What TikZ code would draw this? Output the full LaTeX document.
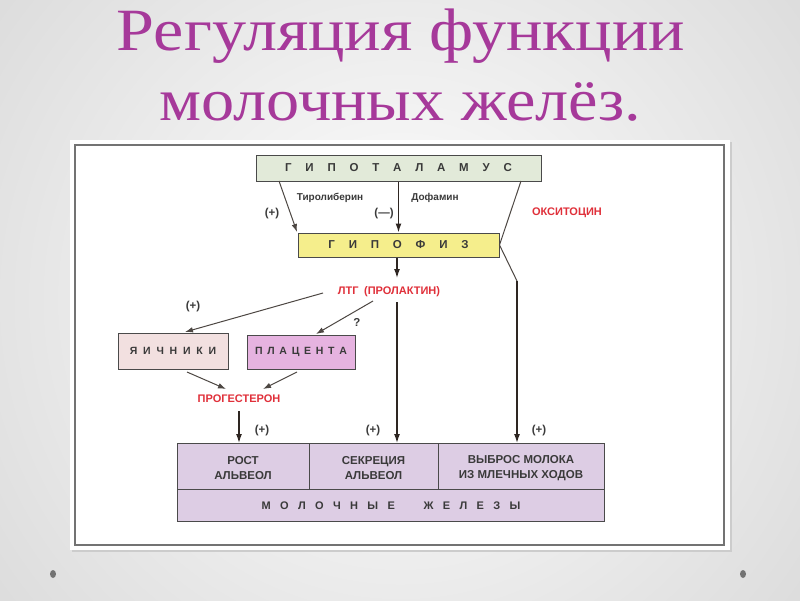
\documentclass[tikz,border=0pt]{standalone}
\usepackage{fontspec}
\setmainfont{Liberation Serif}
\newfontfamily\diag{Liberation Sans}
\usetikzlibrary{arrows.meta,calc}
\definecolor{titlec}{HTML}{A6399A}
\definecolor{redt}{HTML}{E0303A}
\definecolor{txt}{HTML}{3A3A3A}
\definecolor{edge}{HTML}{4A4A4A}
\definecolor{hypc}{HTML}{E2EAD9}
\definecolor{pitc}{HTML}{F5EE8C}
\definecolor{ovac}{HTML}{F2E0E0}
\definecolor{plac}{HTML}{E6B3E0}
\definecolor{mamc}{HTML}{DDCDE4}
\definecolor{linec}{HTML}{2E2622}
\newcommand{\ls}{\hskip 1.2em plus 0pt}
\begin{document}
\begin{tikzpicture}[x=1pt,y=-1pt,
  box/.style={draw=edge,line width=1pt,inner sep=0pt,font=\diag\bfseries\fontsize{11.5}{13}\selectfont,text=txt},
  cell/.style={inner sep=0pt,align=center,font=\diag\bfseries\fontsize{11.5}{15}\selectfont,text=txt},
  lbl/.style={inner sep=0pt,font=\diag\bfseries\fontsize{10}{12}\selectfont,text=txt},
  plbl/.style={inner sep=0pt,font=\diag\bfseries\fontsize{11.5}{13}\selectfont,text=txt},
  rlbl/.style={inner sep=0pt,font=\diag\bfseries\fontsize{11}{13}\selectfont,text=redt},
  arr/.style={draw=linec,line width=1.3pt,-{Latex[length=9pt,width=6pt]}},
  thin arr/.style={draw=linec!85!white,line width=1pt,-{Latex[length=8pt,width=5.5pt]}},
  ln/.style={draw=linec,line width=1.3pt},
  ttl/.style={inner sep=0pt,anchor=base,text=titlec,font=\fontsize{60}{62}\selectfont}]
\useasboundingbox (0,0) rectangle (800,600);
\shade[inner color=white,outer color=black!14] (-120,-220) rectangle (920,820);
% title
\node[ttl] (t1) at (401,50) {\scalebox{1.135}[1]{Регуляция функции}};
\node[ttl] (t2) at (400,120) {\scalebox{1.105}[1]{молочных желёз.}};
% panel
\fill[black!20] (72,142) rectangle (732,552);
\fill[white] (70,140) rectangle (730,550);
\draw[black!55,line width=1.2pt] (75,145) rectangle (724,545);
% boxes
\node[box,fill=hypc,minimum width=285pt,minimum height=26pt] (hyp) at (398.5,168) {Г\ls И\ls П\ls О\ls Т\ls А\ls Л\ls А\ls М\ls У\ls С};
\node[box,fill=pitc,minimum width=201pt,minimum height=24pt] (pit) at (398.5,245) {Г\ls И\ls П\ls О\ls Ф\ls И\ls З};
\node[box,fill=ovac,minimum width=110pt,minimum height=36pt,font=\diag\bfseries\fontsize{10.5}{13}\selectfont] (ova) at (173,351) {Я\hskip0.55em И\hskip0.55em Ч\hskip0.55em Н\hskip0.55em И\hskip0.55em К\hskip0.55em И};
\node[box,fill=plac,minimum width=108pt,minimum height=34pt,font=\diag\bfseries\fontsize{10.5}{13}\selectfont] (pla) at (301,352) {П\hskip0.45em Л\hskip0.45em А\hskip0.45em Ц\hskip0.45em Е\hskip0.45em Н\hskip0.45em Т\hskip0.45em А};
% mammary block
\draw[edge,line width=1pt,fill=mamc] (177,443) rectangle (604,521);
\draw[edge,line width=1pt] (177,489) -- (604,489) (309,443) -- (309,489) (438,443) -- (438,489);
\node[cell] (c1) at (243,468) {РОСТ\\АЛЬВЕОЛ};
\node[cell] (c2) at (373.5,468) {СЕКРЕЦИЯ\\АЛЬВЕОЛ};
\node[cell] (c3) at (521,468) {ВЫБРОС МОЛОКА\\ИЗ МЛЕЧНЫХ ХОДОВ};
\node[cell,font=\diag\bfseries\fontsize{11}{13}\selectfont] (mg) at (391,506) {М\hskip0.85em О\hskip0.85em Л\hskip0.85em О\hskip0.85em Ч\hskip0.85em Н\hskip0.85em Ы\hskip0.85em Е\hskip2.6em Ж\hskip0.85em Е\hskip0.85em Л\hskip0.85em Е\hskip0.85em З\hskip0.85em Ы};
% labels
\node[lbl] (tyr) at (330,198) {Тиролиберин};
\node[lbl] (dop) at (435,198) {Дофамин};
\node[plbl] (pl1) at (272,214) {(+)};
\node[plbl] (mi1) at (384,214) {(—)};
\node[rlbl] (oxy) at (567,213) {ОКСИТОЦИН};
\node[rlbl] (ltg) at (389,292) {ЛТГ\hskip0.5em(ПРОЛАКТИН)};
\node[plbl] (pl2) at (193,307) {(+)};
\node[plbl] (q) at (357,322) {?};
\node[rlbl] (prog) at (239,399) {ПРОГЕСТЕРОН};
\node[plbl] (pl3) at (262,431) {(+)};
\node[plbl] (pl4) at (373,431) {(+)};
\node[plbl] (pl5) at (539,431) {(+)};
% connector points
\coordinate (tyrA) at (279,181);
\coordinate (tyrB) at (297,232);
\coordinate (oxA) at (521,181);
\coordinate (oxB) at (517,281);
\coordinate (oxC) at (517,443);
\coordinate (lA) at (323,293);
\coordinate (lB) at (185,332);
\coordinate (pA) at (373,301);
\coordinate (pB) at (316,334);
\coordinate (oA) at (187,372);
\coordinate (oB) at (226,389);
\coordinate (qA) at (297,372);
\coordinate (qB) at (263,389);
\coordinate (vA) at (397,302);
\coordinate (vB) at (397,443);
\coordinate (gA) at (239,411);
\coordinate (gB) at (239,443);
\coordinate (ltN) at (397,278);
% connectors
\draw[thin arr] (tyrA) -- (tyrB);
\draw[arr] (hyp.south) -- (pit.north);
\draw[ln,line width=1pt,draw=linec!85!white] (oxA) -- (pit.east) -- (oxB);
\draw[arr] (oxB) -- (oxC);
\draw[arr] (pit.south -| ltN) -- (ltN);
\draw[thin arr] (lA) -- (lB);
\draw[thin arr] (pA) -- (pB);
\draw[thin arr] (oA) -- (oB);
\draw[thin arr] (qA) -- (qB);
\draw[arr] (vA) -- (vB);
\draw[arr] (gA) -- (gB);
% bullets
\fill[black!55] (53,574) ellipse (3pt and 4pt);
\fill[black!55] (743,574) ellipse (3pt and 4pt);
\end{tikzpicture}
\end{document}
